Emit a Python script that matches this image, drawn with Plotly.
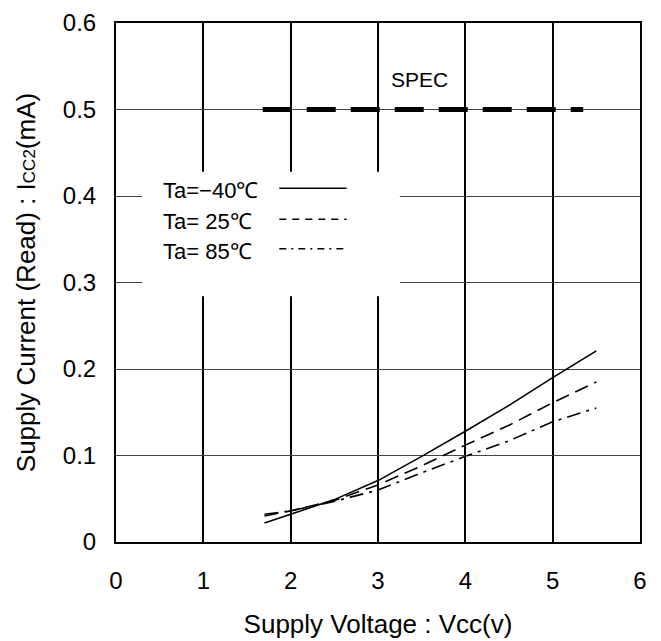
import plotly.graph_objects as go

vcc = [1.7, 2.0, 2.5, 3.0, 3.5, 4.0, 4.5, 5.0, 5.5]
icc_m40 = [0.022, 0.032, 0.049, 0.071, 0.099, 0.128, 0.158, 0.190, 0.221]
icc_25 = [0.030, 0.036, 0.048, 0.066, 0.088, 0.112, 0.135, 0.161, 0.185]
icc_85 = [0.032, 0.036, 0.047, 0.060, 0.080, 0.099, 0.117, 0.139, 0.155]

spec_x = [1.68, 5.35]
spec_y = [0.5, 0.5]

legend_labels = ["Ta=\u221240\u2103", "Ta= 25\u2103", "Ta= 85\u2103"]
legend_y = [0.406, 0.370, 0.336]
curve_dashes = ["solid", "14px,7px", "14px,6px,3px,6px"]
legend_dashes = ["solid", "7px,6px", "7px,5px,2px,5px"]
series = [icc_m40, icc_25, icc_85]

FONT = "Arial, Liberation Sans, sans-serif"

fig = go.Figure()
for ys, d, name in zip(series, curve_dashes, legend_labels):
    fig.add_trace(go.Scatter(x=vcc, y=ys, mode="lines", name=name,
                             line=dict(color="black", width=1.6, dash=d),
                             showlegend=False))

fig.add_trace(go.Scatter(x=spec_x, y=spec_y, mode="lines", showlegend=False,
                         line=dict(color="black", width=5, dash="29px,15px")))

shapes = [dict(type="rect", xref="x", yref="y", x0=0.3, x1=3.25, y0=0.284, y1=0.428,
               fillcolor="white", line=dict(width=0), layer="above")]
annotations = []
for lab, ly, d in zip(legend_labels, legend_y, legend_dashes):
    shapes.append(dict(type="line", xref="x", yref="y", x0=1.87, x1=2.64, y0=ly + 0.003, y1=ly + 0.003,
                       line=dict(color="black", width=1.5, dash=d), layer="above"))
    annotations.append(dict(x=0.52, y=ly, xref="x", yref="y", text=lab, showarrow=False,
                            xanchor="left", yanchor="middle",
                            font=dict(family=FONT, size=22, color="black")))

annotations.append(dict(x=3.48, y=0.535, xref="x", yref="y", text="SPEC", showarrow=False,
                        xanchor="center", yanchor="middle",
                        font=dict(family=FONT, size=21, color="black")))

fig.update_layout(
    width=661, height=641,
    margin=dict(l=116, r=21, t=23, b=99, autoexpand=False),
    paper_bgcolor="white", plot_bgcolor="white",
    font=dict(family=FONT, size=24, color="black"),
    shapes=shapes, annotations=annotations,
    xaxis=dict(range=[0, 6], dtick=1, tick0=0, showgrid=True, gridcolor="black", gridwidth=1.5,
               zeroline=False, showline=True, mirror=True, linecolor="black", linewidth=2,
               ticks="outside", ticklen=16, tickcolor="rgba(0,0,0,0)",
               tickfont=dict(size=24), automargin=False,
               title=dict(text="Supply Voltage : Vcc(v)", font=dict(size=26), standoff=22)),
    yaxis=dict(range=[0, 0.6], dtick=0.1, tick0=0, showgrid=True, gridcolor="#444", gridwidth=1,
               zeroline=False, showline=True, mirror=True, linecolor="black", linewidth=2,
               ticks="outside", ticklen=13, tickcolor="rgba(0,0,0,0)",
               tickfont=dict(size=24), automargin=False,
               title=dict(text="Supply Current (Read) : I<span style='font-size:17px'>CC2</span>(mA)",
                          font=dict(size=26), standoff=20)),
)

fig.write_html("out.html")
